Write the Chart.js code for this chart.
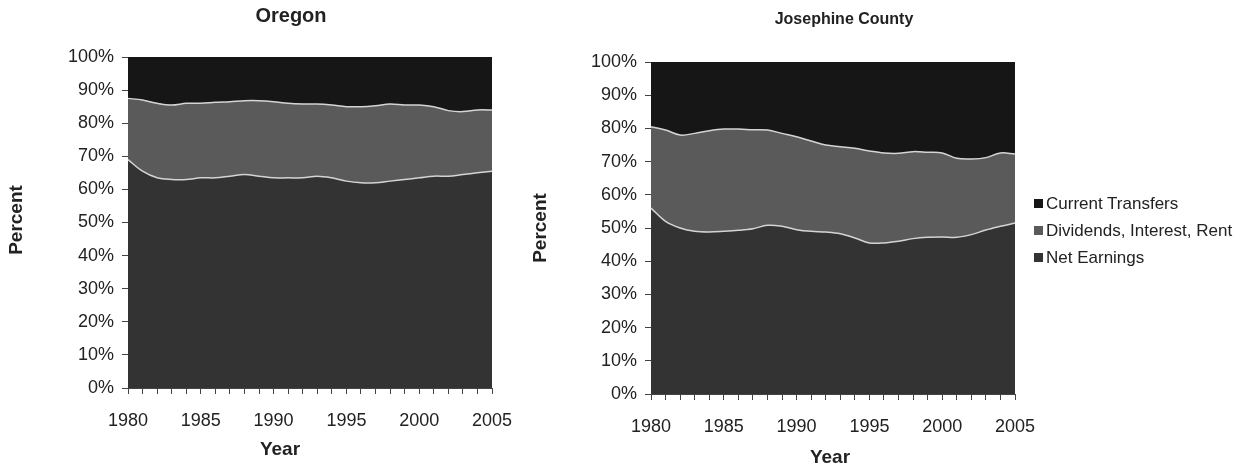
<!DOCTYPE html>
<html><head><meta charset="utf-8">
<script src="https://cdn.jsdelivr.net/npm/chart.js@4.4.1/dist/chart.umd.min.js"></script>
<style>
body{margin:0;background:#fff;width:1243px;height:467px;overflow:hidden;position:relative;font-family:"Liberation Sans",Arial,sans-serif;}
#w1{position:absolute;left:0;top:0;width:582px;height:467px;}
#w2{position:absolute;left:530px;top:0;width:628px;height:467px;}
#legend{position:absolute;left:1034px;top:190px;z-index:2;font-size:17px;color:#222;}
.li{display:flex;align-items:center;height:27px;white-space:nowrap;}
.sw{width:9px;height:9px;margin-right:3px;}
</style></head>
<body>
<div id="w1"><canvas id="c1"></canvas></div>
<div id="w2"><canvas id="c2"></canvas></div>
<div id="legend"></div>
<script>
const years = [1980,1981,1982,1983,1984,1985,1986,1987,1988,1989,1990,1991,1992,1993,1994,1995,1996,1997,1998,1999,2000,2001,2002,2003,2004,2005];
const seriesNames = ["Current Transfers","Dividends, Interest, Rent","Net Earnings"];
const yTicks = [0,10,20,30,40,50,60,70,80,90,100];

const oregonNet = [69,65.5,63.5,63,63,63.5,63.5,64,64.5,64,63.5,63.5,63.5,64,63.5,62.5,62,62,62.5,63,63.5,64,64,64.5,65,65.5];
const oregonDiv = [18.5,21.5,22.5,22.5,23,22.5,22.8,22.5,22.3,22.8,23,22.5,22.3,21.8,22,22.5,23,23.3,23.3,22.5,22,21,19.8,19,19,18.5];
const oregonTransfers = [12.5,13,14,14.5,14,14,13.7,13.5,13.2,13.2,13.5,14,14.2,14.2,14.5,15,15,14.7,14.2,14.5,14.5,15,16.2,16.5,16,16];

const josNet = [56,52,50,49,48.8,49,49.3,49.8,50.8,50.5,49.5,49,48.8,48.3,47,45.5,45.5,46,46.8,47.2,47.3,47.2,48,49.4,50.5,51.5];
const josDiv = [24.5,27.5,28,29.5,30.5,30.8,30.5,29.8,28.7,28,28,27.2,26.2,26.2,27,27.7,27.1,26.5,26.2,25.6,25.3,23.8,22.8,21.8,22.1,20.8];
const josTransfers = [19.5,20.5,22,21.5,20.7,20.2,20.2,20.4,20.5,21.5,22.5,23.8,25,25.5,26,26.8,27.4,27.5,27,27.2,27.4,29,29.2,28.8,27.4,27.7];

const colors = {transfers:"#161616", div:"#5a5a5a", net:"#333333", line:"#d4d4d4"};
const FONT = '"Liberation Sans", Arial, sans-serif';

const textLayer = {
  id:'textLayer',
  afterDraw(chart, args, o){
    const ctx = chart.ctx; ctx.save();
    ctx.fillStyle = '#222'; ctx.textAlign='center'; ctx.textBaseline='middle';
    ctx.font = o.titleFont;
    ctx.fillText(o.title, o.titlePos[0], o.titlePos[1]);
    ctx.font = o.font;
    ctx.fillText(o.xText, o.xPos[0], o.xPos[1]);
    ctx.translate(o.yPos[0], o.yPos[1]); ctx.rotate(-Math.PI/2);
    ctx.fillText(o.yText, 0, 0);
    ctx.restore();
  }
};

function makeChart(id, net, div, tr, padT, yW, xH, padR, tl){
  return new Chart(document.getElementById(id), {
    type:'line',
    data:{
      labels: years,
      datasets:[
        {label:seriesNames[2], data:net, fill:'origin', backgroundColor:colors.net, borderColor:colors.line, borderWidth:1.5, pointRadius:0, tension:0.35},
        {label:seriesNames[1], data:div, fill:'-1', backgroundColor:colors.div, borderColor:colors.line, borderWidth:1.5, pointRadius:0, tension:0.35},
        {label:seriesNames[0], data:tr, fill:'-1', backgroundColor:colors.transfers, borderColor:colors.transfers, borderWidth:0, pointRadius:0, tension:0.35}
      ]
    },
    options:{
      responsive:true, maintainAspectRatio:false, animation:false,
      layout:{padding:{left:0, right:padR, top:padT, bottom:0}},
      plugins:{
        legend:{display:false}, tooltip:{enabled:false}, title:{display:false},
        textLayer: tl
      },
      scales:{
        x:{
          stacked:true, offset:false,
          grid:{drawOnChartArea:false, drawTicks:true, tickLength:6, color:'#444'},
          border:{color:'#444', width:1},
          ticks:{autoSkip:false, maxRotation:0, color:'#222', font:{family:FONT, size:18}, padding:16,
            callback:function(v, i){ const y = years[i]; return y % 5 === 0 ? String(y) : ''; }},
          afterFit(s){ s.height = xH; }
        },
        y:{
          stacked:true, min:0, max:100,
          afterBuildTicks(s){ s.ticks = yTicks.map(v=>({value:v})); },
          grid:{drawOnChartArea:false, drawTicks:true, tickLength:6, color:'#444'},
          border:{color:'#444', width:1},
          ticks:{color:'#222', font:{family:FONT, size:18}, padding:8, callback:v=>v+'%'},
          afterFit(s){ s.width = yW; }
        }
      }
    },
    plugins:[textLayer]
  });
}

makeChart('c1',oregonNet,oregonDiv,oregonTransfers,57,128,79,90,
  {title:'Oregon', titleFont:'bold 20px '+FONT, titlePos:[291,16],
   font:'bold 19px '+FONT, xText:'Year', xPos:[280,450], yText:'Percent', yPos:[17,220]});
makeChart('c2',josNet,josDiv,josTransfers,62,121,73,143,
  {title:'Josephine County', titleFont:'bold 16px '+FONT, titlePos:[314,20],
   font:'bold 19px '+FONT, xText:'Year', xPos:[300,458], yText:'Percent', yPos:[11,228]});

const lg = document.getElementById('legend');
[[seriesNames[0],colors.transfers],[seriesNames[1],colors.div],[seriesNames[2],colors.net]].forEach(([n,c])=>{
  const d=document.createElement('div'); d.className='li';
  d.innerHTML='<span class="sw" style="background:'+c+'"></span><span>'+n+'</span>';
  lg.appendChild(d);
});
</script>
</body></html>
